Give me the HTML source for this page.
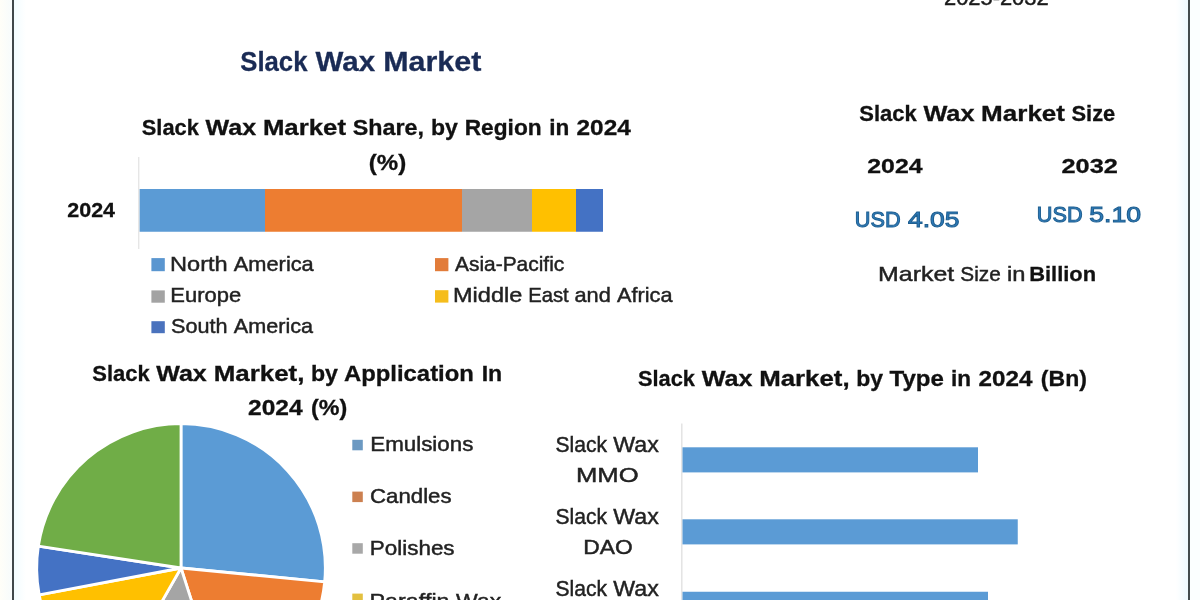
<!DOCTYPE html>
<html lang="en"><head><meta charset="utf-8"><title>Slack Wax Market</title>
<style>
html,body{margin:0;padding:0;background:#fff;}
body{width:1200px;height:600px;overflow:hidden;}
svg{display:block;font-family:"Liberation Sans",Arial,sans-serif;}
</style></head><body>
<svg width="1200" height="600" viewBox="0 0 1200 600">
<rect width="1200" height="600" fill="#ffffff"/>
<g id="shapes">
<defs><linearGradient id="gl" x1="0" x2="1" y1="0" y2="0"><stop offset="0" stop-color="#fffef8"/><stop offset="1" stop-color="#f7fbfc"/></linearGradient><linearGradient id="gl2" x1="0" x2="1" y1="0" y2="0"><stop offset="0" stop-color="#f2fcff"/><stop offset="1" stop-color="#ffffff"/></linearGradient><linearGradient id="gr" x1="0" x2="1" y1="0" y2="0"><stop offset="0" stop-color="#ffffff"/><stop offset="1" stop-color="#eefaff"/></linearGradient></defs>
<rect x="0" y="0" width="12.00" height="600.00" fill="url(#gl)"/>
<rect x="14" y="0" width="12.00" height="600.00" fill="url(#gl2)"/>
<rect x="1176" y="0" width="12.00" height="600.00" fill="url(#gr)"/>
<rect x="1190" y="0" width="10.00" height="600.00" fill="#fbffff"/>
<rect x="12" y="0" width="2.00" height="600.00" fill="#3f474a"/>
<rect x="1188" y="0" width="2.00" height="600.00" fill="#434c4e"/>
<rect x="139.5" y="189" width="125.50" height="42.75" fill="#5b9bd5"/>
<rect x="265" y="189" width="197.00" height="42.75" fill="#ed7d31"/>
<rect x="462" y="189" width="70.00" height="42.75" fill="#a5a5a5"/>
<rect x="532" y="189" width="44.00" height="42.75" fill="#ffc000"/>
<rect x="576" y="189" width="27.00" height="42.75" fill="#4472c4"/>
<rect x="138.3" y="157" width="1.00" height="92.00" fill="#dcdcdc"/>
<rect x="151.4" y="258.1" width="13.40" height="13.10" fill="#5a96d0"/>
<rect x="151.4" y="290.4" width="13.40" height="12.30" fill="#a3a3a3"/>
<rect x="151.4" y="321.2" width="13.40" height="12.00" fill="#4a72bd"/>
<rect x="435" y="258.1" width="13.40" height="13.10" fill="#e27c3a"/>
<rect x="435" y="290.2" width="13.40" height="12.40" fill="#f5bd1c"/>
<rect x="352.3" y="439.8" width="10.50" height="10.50" fill="#6c99c2"/>
<rect x="352.3" y="491.6" width="10.50" height="10.50" fill="#cc8050"/>
<rect x="352.3" y="543.2" width="10.50" height="10.50" fill="#a8a8a8"/>
<rect x="352.3" y="593.6" width="10.50" height="10.50" fill="#e3c040"/>
<rect x="681.3" y="423.5" width="1.10" height="176.50" fill="#d9d9d9"/>
<rect x="682.5" y="447.3" width="295.50" height="25.10" fill="#5b9bd5"/>
<rect x="682.5" y="519.3" width="335.25" height="25.10" fill="#5b9bd5"/>
<rect x="682.5" y="591.75" width="305.50" height="24.25" fill="#5b9bd5"/>
<path d="M181 568 L181.00 423.70 A144.3 144.3 0 0 1 324.64 581.83 Z" fill="#5b9bd5" stroke="#ffffff" stroke-width="2.8" stroke-linejoin="round"/>
<path d="M181 568 L324.64 581.83 A144.3 144.3 0 0 1 225.11 705.39 Z" fill="#ed7d31" stroke="#ffffff" stroke-width="2.8" stroke-linejoin="round"/>
<path d="M181 568 L225.11 705.39 A144.3 144.3 0 0 1 109.51 693.34 Z" fill="#a5a5a5" stroke="#ffffff" stroke-width="2.8" stroke-linejoin="round"/>
<path d="M181 568 L109.51 693.34 A144.3 144.3 0 0 1 39.21 594.79 Z" fill="#ffc000" stroke="#ffffff" stroke-width="2.8" stroke-linejoin="round"/>
<path d="M181 568 L39.21 594.79 A144.3 144.3 0 0 1 38.38 546.05 Z" fill="#4472c4" stroke="#ffffff" stroke-width="2.8" stroke-linejoin="round"/>
<path d="M181 568 L38.38 546.05 A144.3 144.3 0 0 1 181.00 423.70 Z" fill="#70ad47" stroke="#ffffff" stroke-width="2.8" stroke-linejoin="round"/>
</g>
<g id="texts">
<text class="leaf" id="t0" x="944.00" y="4.60" font-size="21.68" font-weight="400" fill="#1a1a1a" textLength="104.54" lengthAdjust="spacingAndGlyphs" stroke="#1a1a1a" stroke-width="0.45">2025-2032</text>
<text id="t1" y="71.00" font-size="27.46" font-weight="700" fill="#1a2b55" stroke="#1a2b55" stroke-width="0.3"><tspan class="leaf" id="t1w0" x="240.25" textLength="67.21" lengthAdjust="spacingAndGlyphs">Slack</tspan> <tspan class="leaf" id="t1w1" x="315.59" textLength="59.62" lengthAdjust="spacingAndGlyphs">Wax</tspan> <tspan class="leaf" id="t1w2" x="383.20" textLength="98.11" lengthAdjust="spacingAndGlyphs">Market</tspan></text>
<text id="t2" y="134.50" font-size="21.68" font-weight="700" fill="#111" stroke="#111" stroke-width="0.3"><tspan class="leaf" id="t2w0" x="141.75" textLength="57.07" lengthAdjust="spacingAndGlyphs">Slack</tspan> <tspan class="leaf" id="t2w1" x="205.58" textLength="50.58" lengthAdjust="spacingAndGlyphs">Wax</tspan> <tspan class="leaf" id="t2w2" x="262.92" textLength="83.09" lengthAdjust="spacingAndGlyphs">Market</tspan> <tspan class="leaf" id="t2w3" x="352.77" textLength="71.22" lengthAdjust="spacingAndGlyphs">Share,</tspan> <tspan class="leaf" id="t2w4" x="430.92" textLength="26.89" lengthAdjust="spacingAndGlyphs">by</tspan> <tspan class="leaf" id="t2w5" x="464.70" textLength="76.94" lengthAdjust="spacingAndGlyphs">Region</tspan> <tspan class="leaf" id="t2w6" x="549.25" textLength="20.06" lengthAdjust="spacingAndGlyphs">in</tspan> <tspan class="leaf" id="t2w7" x="576.52" textLength="54.26" lengthAdjust="spacingAndGlyphs">2024</tspan></text>
<text class="leaf" id="t3" x="368.75" y="170.00" font-size="21.68" font-weight="700" fill="#111" textLength="37.40" lengthAdjust="spacingAndGlyphs" stroke="#111" stroke-width="0.3">(%)</text>
<text class="leaf" id="t4" x="67.25" y="216.50" font-size="20.23" font-weight="700" fill="#111" textLength="47.76" lengthAdjust="spacingAndGlyphs" stroke="#111" stroke-width="0.3">2024</text>
<text id="t5" y="270.50" font-size="20.95" font-weight="400" fill="#222" stroke="#222" stroke-width="0.45"><tspan class="leaf" id="t5w0" x="170.00" textLength="57.70" lengthAdjust="spacingAndGlyphs">North</tspan> <tspan class="leaf" id="t5w1" x="233.84" textLength="79.91" lengthAdjust="spacingAndGlyphs">America</tspan></text>
<text class="leaf" id="t6" x="170.25" y="301.75" font-size="20.95" font-weight="400" fill="#222" textLength="70.87" lengthAdjust="spacingAndGlyphs" stroke="#222" stroke-width="0.45">Europe</text>
<text id="t7" y="333.00" font-size="20.95" font-weight="400" fill="#222" stroke="#222" stroke-width="0.45"><tspan class="leaf" id="t7w0" x="171.00" textLength="56.51" lengthAdjust="spacingAndGlyphs">South</tspan> <tspan class="leaf" id="t7w1" x="233.84" textLength="79.16" lengthAdjust="spacingAndGlyphs">America</tspan></text>
<text class="leaf" id="t8" x="455.00" y="270.50" font-size="20.95" font-weight="400" fill="#222" textLength="109.25" lengthAdjust="spacingAndGlyphs" stroke="#222" stroke-width="0.45">Asia-Pacific</text>
<text id="t9" y="301.50" font-size="20.95" font-weight="400" fill="#222" stroke="#222" stroke-width="0.45"><tspan class="leaf" id="t9w0" x="453.00" textLength="69.26" lengthAdjust="spacingAndGlyphs">Middle</tspan> <tspan class="leaf" id="t9w1" x="528.13" textLength="40.58" lengthAdjust="spacingAndGlyphs">East</tspan> <tspan class="leaf" id="t9w2" x="574.48" textLength="36.35" lengthAdjust="spacingAndGlyphs">and</tspan> <tspan class="leaf" id="t9w3" x="617.04" textLength="55.46" lengthAdjust="spacingAndGlyphs">Africa</tspan></text>
<text id="t10" y="121.25" font-size="21.68" font-weight="700" fill="#111" stroke="#111" stroke-width="0.3"><tspan class="leaf" id="t10w0" x="859.25" textLength="57.35" lengthAdjust="spacingAndGlyphs">Slack</tspan> <tspan class="leaf" id="t10w1" x="923.41" textLength="51.13" lengthAdjust="spacingAndGlyphs">Wax</tspan> <tspan class="leaf" id="t10w2" x="981.09" textLength="83.96" lengthAdjust="spacingAndGlyphs">Market</tspan> <tspan class="leaf" id="t10w3" x="1071.54" textLength="43.76" lengthAdjust="spacingAndGlyphs">Size</tspan></text>
<text class="leaf" id="t11" x="867.25" y="172.50" font-size="20.95" font-weight="700" fill="#111" textLength="55.27" lengthAdjust="spacingAndGlyphs" stroke="#111" stroke-width="0.3">2024</text>
<text class="leaf" id="t12" x="1061.50" y="172.50" font-size="20.95" font-weight="700" fill="#111" textLength="56.32" lengthAdjust="spacingAndGlyphs" stroke="#111" stroke-width="0.3">2032</text>
<text id="t13" y="227.00" font-size="21.97" font-weight="400" fill="#2e7cbc" stroke="#1f5f90" stroke-width="1"><tspan class="leaf" id="t13w0" x="854.75" textLength="45.85" lengthAdjust="spacingAndGlyphs">USD</tspan> <tspan class="leaf" id="t13w1" x="908.00" textLength="51.51" lengthAdjust="spacingAndGlyphs">4.05</tspan></text>
<text id="t14" y="222.20" font-size="21.97" font-weight="400" fill="#2e7cbc" stroke="#1f5f90" stroke-width="1"><tspan class="leaf" id="t14w0" x="1036.75" textLength="45.85" lengthAdjust="spacingAndGlyphs">USD</tspan> <tspan class="leaf" id="t14w1" x="1089.25" textLength="51.80" lengthAdjust="spacingAndGlyphs">5.10</tspan></text>
<text id="t15" y="281.30" font-size="21.10" font-weight="400" fill="#222" stroke="#222" stroke-width="0.45"><tspan class="leaf" id="t15w0" x="878.00" textLength="76.18" lengthAdjust="spacingAndGlyphs">Market</tspan> <tspan class="leaf" id="t15w1" x="960.29" textLength="40.45" lengthAdjust="spacingAndGlyphs">Size</tspan> <tspan class="leaf" id="t15w2" x="1007.07" textLength="18.46" lengthAdjust="spacingAndGlyphs">in</tspan></text>
<text class="leaf" id="t16" x="1029.20" y="281.30" font-size="21.10" font-weight="700" fill="#111" textLength="66.87" lengthAdjust="spacingAndGlyphs" stroke="#111" stroke-width="0.3">Billion</text>
<text id="t17" y="380.60" font-size="21.68" font-weight="700" fill="#111" stroke="#111" stroke-width="0.3"><tspan class="leaf" id="t17w0" x="92.25" textLength="57.36" lengthAdjust="spacingAndGlyphs">Slack</tspan> <tspan class="leaf" id="t17w1" x="156.23" textLength="50.55" lengthAdjust="spacingAndGlyphs">Wax</tspan> <tspan class="leaf" id="t17w2" x="213.66" textLength="90.80" lengthAdjust="spacingAndGlyphs">Market,</tspan> <tspan class="leaf" id="t17w3" x="310.95" textLength="26.99" lengthAdjust="spacingAndGlyphs">by</tspan> <tspan class="leaf" id="t17w4" x="344.03" textLength="129.82" lengthAdjust="spacingAndGlyphs">Application</tspan> <tspan class="leaf" id="t17w5" x="481.67" textLength="20.51" lengthAdjust="spacingAndGlyphs">In</tspan></text>
<text id="t18" y="415.00" font-size="21.68" font-weight="700" fill="#111" stroke="#111" stroke-width="0.3"><tspan class="leaf" id="t18w0" x="248.00" textLength="54.56" lengthAdjust="spacingAndGlyphs">2024</tspan> <tspan class="leaf" id="t18w1" x="310.99" textLength="36.15" lengthAdjust="spacingAndGlyphs">(%)</tspan></text>
<text id="t19" y="386.25" font-size="21.68" font-weight="700" fill="#111" stroke="#111" stroke-width="0.3"><tspan class="leaf" id="t19w0" x="638.00" textLength="56.95" lengthAdjust="spacingAndGlyphs">Slack</tspan> <tspan class="leaf" id="t19w1" x="701.71" textLength="50.72" lengthAdjust="spacingAndGlyphs">Wax</tspan> <tspan class="leaf" id="t19w2" x="759.18" textLength="90.48" lengthAdjust="spacingAndGlyphs">Market,</tspan> <tspan class="leaf" id="t19w3" x="856.22" textLength="26.82" lengthAdjust="spacingAndGlyphs">by</tspan> <tspan class="leaf" id="t19w4" x="889.51" textLength="54.43" lengthAdjust="spacingAndGlyphs">Type</tspan> <tspan class="leaf" id="t19w5" x="951.08" textLength="20.06" lengthAdjust="spacingAndGlyphs">in</tspan> <tspan class="leaf" id="t19w6" x="978.60" textLength="53.88" lengthAdjust="spacingAndGlyphs">2024</tspan> <tspan class="leaf" id="t19w7" x="1040.87" textLength="45.98" lengthAdjust="spacingAndGlyphs">(Bn)</tspan></text>
<text class="leaf" id="t20" x="370.25" y="450.75" font-size="20.95" font-weight="400" fill="#222" textLength="103.06" lengthAdjust="spacingAndGlyphs" stroke="#222" stroke-width="0.45">Emulsions</text>
<text class="leaf" id="t21" x="370.00" y="503.00" font-size="20.95" font-weight="400" fill="#222" textLength="81.55" lengthAdjust="spacingAndGlyphs" stroke="#222" stroke-width="0.45">Candles</text>
<text class="leaf" id="t22" x="369.75" y="554.50" font-size="20.95" font-weight="400" fill="#222" textLength="84.83" lengthAdjust="spacingAndGlyphs" stroke="#222" stroke-width="0.45">Polishes</text>
<text id="t23" y="607.50" font-size="20.95" font-weight="400" fill="#222" stroke="#222" stroke-width="0.45"><tspan class="leaf" id="t23w0" x="369.50" textLength="80.08" lengthAdjust="spacingAndGlyphs">Paraffin</tspan> <tspan class="leaf" id="t23w1" x="456.09" textLength="45.17" lengthAdjust="spacingAndGlyphs">Wax</tspan></text>
<text id="t24" y="451.50" font-size="21.68" font-weight="400" fill="#222" stroke="#222" stroke-width="0.45"><tspan class="leaf" id="t24w0" x="555.50" textLength="51.46" lengthAdjust="spacingAndGlyphs">Slack</tspan> <tspan class="leaf" id="t24w1" x="613.27" textLength="45.49" lengthAdjust="spacingAndGlyphs">Wax</tspan></text>
<text class="leaf" id="t25" x="576.00" y="482.40" font-size="20.95" font-weight="400" fill="#222" textLength="62.67" lengthAdjust="spacingAndGlyphs" stroke="#222" stroke-width="0.45">MMO</text>
<text id="t26" y="523.50" font-size="21.68" font-weight="400" fill="#222" stroke="#222" stroke-width="0.45"><tspan class="leaf" id="t26w0" x="555.50" textLength="51.46" lengthAdjust="spacingAndGlyphs">Slack</tspan> <tspan class="leaf" id="t26w1" x="613.27" textLength="45.49" lengthAdjust="spacingAndGlyphs">Wax</tspan></text>
<text class="leaf" id="t27" x="583.25" y="554.40" font-size="20.95" font-weight="400" fill="#222" textLength="49.42" lengthAdjust="spacingAndGlyphs" stroke="#222" stroke-width="0.45">DAO</text>
<text id="t28" y="595.50" font-size="21.68" font-weight="400" fill="#222" stroke="#222" stroke-width="0.45"><tspan class="leaf" id="t28w0" x="555.50" textLength="51.46" lengthAdjust="spacingAndGlyphs">Slack</tspan> <tspan class="leaf" id="t28w1" x="613.27" textLength="45.49" lengthAdjust="spacingAndGlyphs">Wax</tspan></text>
</g>
</svg>
</body></html>
